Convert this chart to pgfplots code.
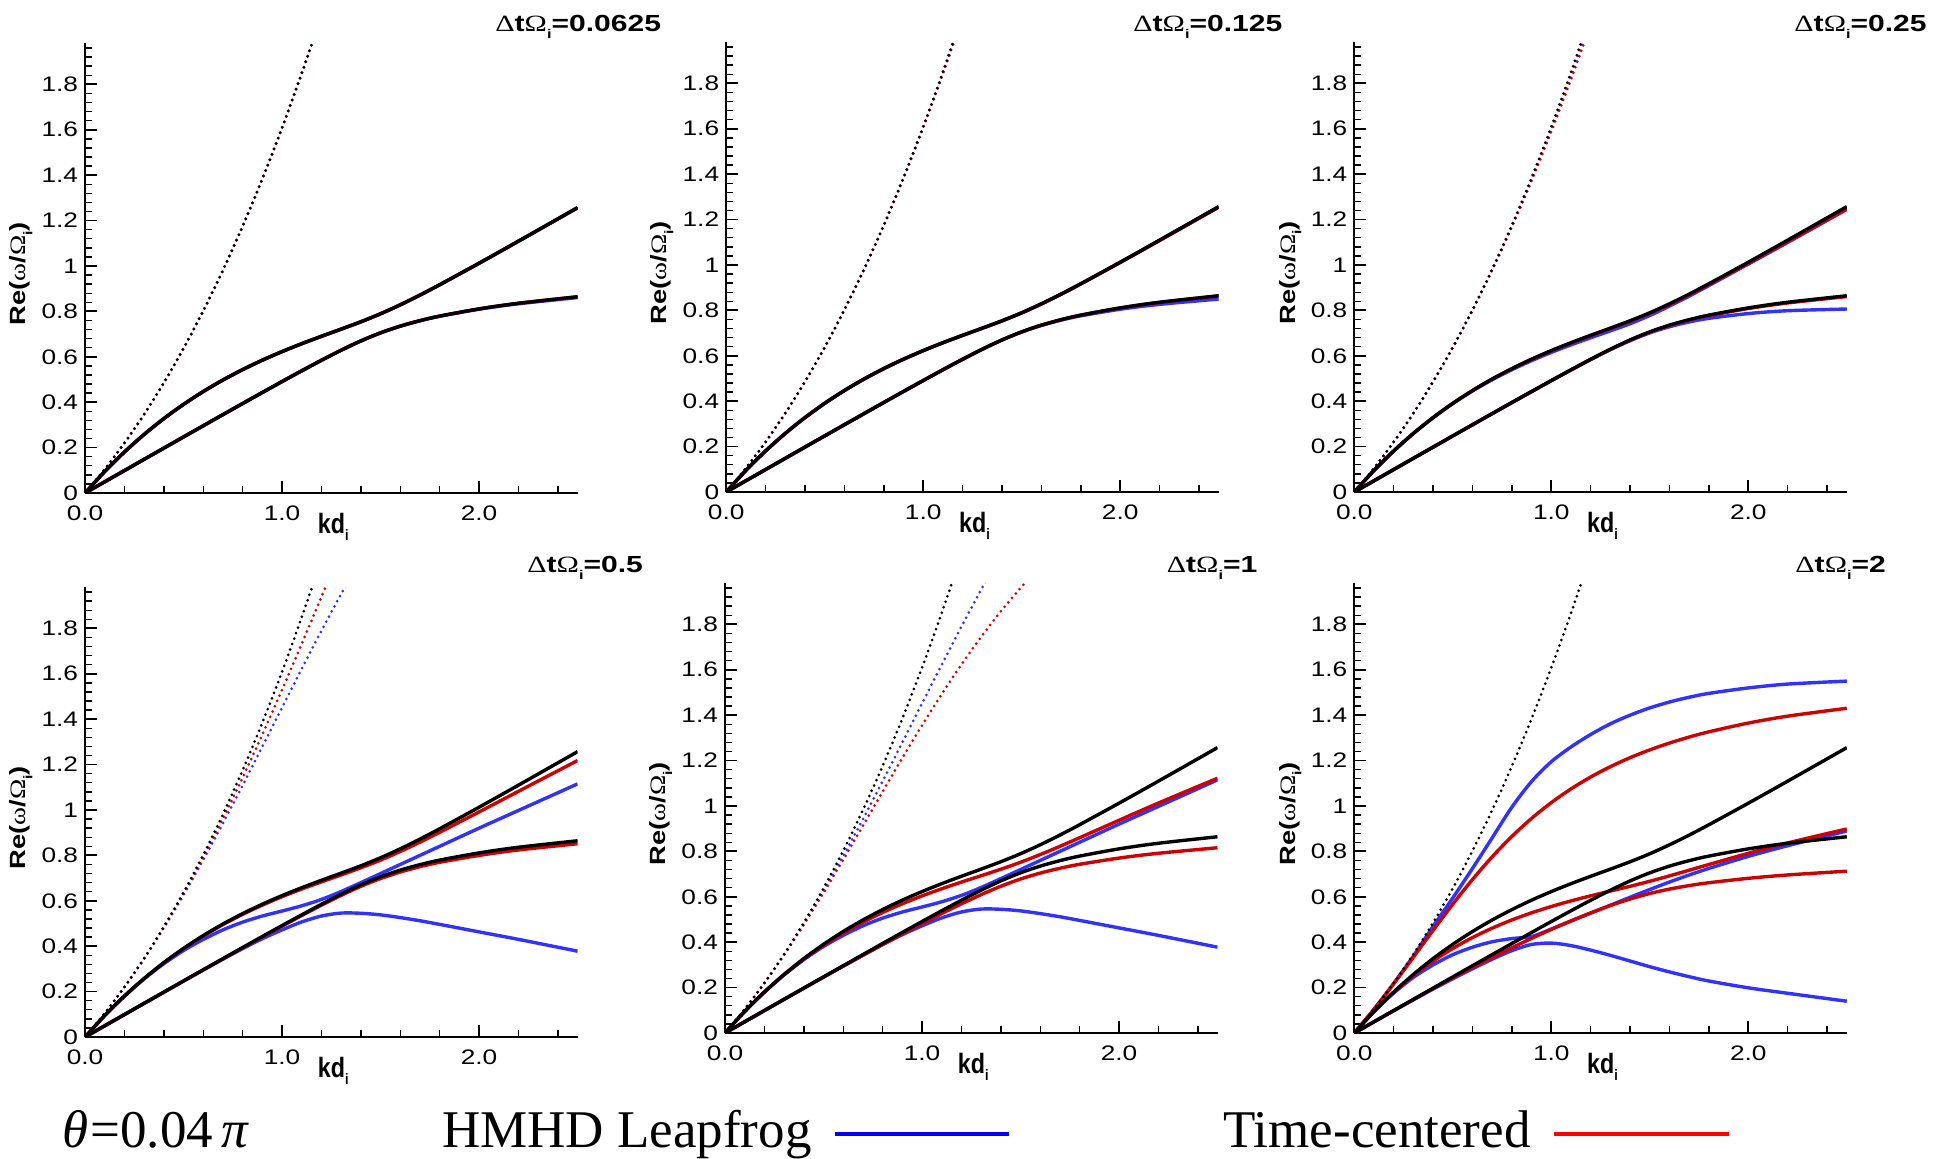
\documentclass[border=0pt]{standalone}
\usepackage{pgfplots}
\pgfplotsset{compat=1.18}
\usepackage{pgfplotstable}
\usepackage{graphicx}
\usepackage{fontspec}
\setmainfont{Liberation Sans}
\newfontfamily\serif{Liberation Serif}
\definecolor{cblue}{RGB}{50,50,255}
\definecolor{cred}{RGB}{205,0,0}
\definecolor{lblue}{RGB}{0,0,235}
\definecolor{lred}{RGB}{255,0,0}
\newcommand{\wide}[1]{\scalebox{1.25}[1]{#1}}
\newcommand{\sub}{\raisebox{-3.2pt}{\fontsize{6.3}{7}\selectfont\bfseries i}}
\newcommand{\ttl}[1]{\scalebox{1.29}[1]{{\serif\mdseries Δ}t{\serif\mdseries Ω}\sub=#1}}

% exact dispersion (black)
\pgfplotstableread{
k W M L
0 0 0 0
0.1 0.1048 0.0949 0.0495
0.2 0.2203 0.1807 0.0989
0.3 0.3471 0.2581 0.1484
0.4 0.4860 0.3278 0.1978
0.5 0.6376 0.3905 0.2471
0.6 0.8027 0.4470 0.2963
0.7 0.9819 0.4978 0.3454
0.8 1.1756 0.5436 0.3943
0.9 1.3846 0.5851 0.4428
1.0 1.6092 0.6229 0.4910
1.1 1.8499 0.6577 0.5384
1.2 2.1072 0.6903 0.5847
1.3 2.3813 0.7219 0.6290
1.4 2.6726 0.7543 0.6699
1.5 2.9814 0.7896 0.7055
1.6 3.3080 0.8290 0.7351
1.7 3.6526 0.8719 0.7592
1.8 4.0154 0.9174 0.7792
2.0 4.7962 1.0122 0.8110
2.2 5.6518 1.1094 0.8358
2.5 7.0772 1.2570 0.8644
}\EX

% dt = 0.0625
\pgfplotstableread{
k bW bM bL rW rM rL
0 0 0 0 0 0 0
0.1 0.1048 0.0949 0.0495 0.1048 0.0949 0.0495
0.2 0.2203 0.1807 0.0989 0.2203 0.1807 0.0989
0.3 0.3471 0.2581 0.1484 0.3471 0.2581 0.1484
0.4 0.4860 0.3278 0.1978 0.4860 0.3278 0.1978
0.5 0.6376 0.3905 0.2471 0.6375 0.3905 0.2471
0.6 0.8027 0.4470 0.2963 0.8026 0.4470 0.2963
0.7 0.9819 0.4978 0.3454 0.9816 0.4978 0.3454
0.8 1.1756 0.5436 0.3943 1.1751 0.5436 0.3943
0.9 1.3846 0.5851 0.4428 1.3837 0.5850 0.4428
1.0 1.6092 0.6229 0.4910 1.6078 0.6228 0.4910
1.1 1.8499 0.6577 0.5384 1.8478 0.6576 0.5384
1.2 2.1072 0.6903 0.5847 2.1041 0.6902 0.5846
1.3 2.3813 0.7219 0.6290 2.3772 0.7218 0.6289
1.4 nan 0.7543 0.6697 nan 0.7542 0.6698
1.5 nan 0.7896 0.7053 nan 0.7894 0.7054
1.6 nan 0.8290 0.7347 nan 0.8288 0.7350
1.7 nan 0.8719 0.7586 nan 0.8717 0.7591
1.8 nan 0.9174 0.7784 nan 0.9172 0.7791
2.0 nan 1.0122 0.8095 nan 1.0119 0.8108
2.2 nan 1.1094 0.8335 nan 1.1090 0.8356
2.5 nan 1.2570 0.8608 nan 1.2563 0.8642
}\PA

% dt = 0.125
\pgfplotstableread{
k bW bM bL rW rM rL
0 0 0 0 0 0 0
0.1 0.1048 0.0949 0.0495 0.1048 0.0949 0.0495
0.2 0.2203 0.1807 0.0989 0.2203 0.1807 0.0989
0.3 0.3471 0.2581 0.1484 0.3471 0.2581 0.1484
0.4 0.4860 0.3277 0.1978 0.4859 0.3278 0.1978
0.5 0.6376 0.3904 0.2471 0.6373 0.3905 0.2471
0.6 0.8027 0.4468 0.2963 0.8020 0.4469 0.2963
0.7 0.9819 0.4975 0.3454 0.9807 0.4976 0.3454
0.8 1.1756 0.5432 0.3943 1.1735 0.5435 0.3943
0.9 1.3846 0.5846 0.4428 1.3811 0.5848 0.4427
1.0 1.6092 0.6223 0.4910 1.6038 0.6226 0.4909
1.1 1.8499 0.6570 0.5384 1.8417 0.6573 0.5382
1.2 2.1072 0.6895 0.5846 2.0950 0.6899 0.5844
1.3 2.3813 0.7210 0.6288 2.3640 0.7214 0.6287
1.4 nan 0.7534 0.6694 nan 0.7537 0.6695
1.5 nan 0.7888 0.7048 nan 0.7890 0.7050
1.6 nan 0.8283 0.7336 nan 0.8283 0.7346
1.7 nan 0.8713 0.7570 nan 0.8710 0.7586
1.8 nan 0.9168 0.7759 nan 0.9164 0.7786
2.0 nan 1.0116 0.8050 nan 1.0108 0.8103
2.2 nan 1.1087 0.8265 nan 1.1076 0.8350
2.5 nan 1.2560 0.8499 nan 1.2544 0.8636
}\PB

% dt = 0.25
\pgfplotstableread{
k bW bM bL rW rM rL
0 0 0 0 0 0 0
0.1 0.1048 0.0949 0.0495 0.1048 0.0949 0.0495
0.2 0.2203 0.1807 0.0989 0.2202 0.1807 0.0989
0.3 0.3470 0.2579 0.1484 0.3469 0.2580 0.1484
0.4 0.4857 0.3272 0.1977 0.4854 0.3276 0.1976
0.5 0.6370 0.3895 0.2470 0.6363 0.3902 0.2470
0.6 0.8014 0.4450 0.2961 0.8000 0.4465 0.2962
0.7 0.9795 0.4945 0.3451 0.9770 0.4972 0.3452
0.8 1.1715 0.5386 0.3938 1.1673 0.5429 0.3940
0.9 1.3778 0.5786 0.4421 1.3710 0.5841 0.4423
1.0 1.5986 0.6149 0.4901 1.5880 0.6216 0.4904
1.1 1.8339 0.6482 0.5372 1.8179 0.6562 0.5376
1.2 2.0838 0.6793 0.5833 2.0604 0.6886 0.5837
1.3 2.3479 0.7099 0.6272 2.3145 0.7199 0.6277
1.4 nan 0.7413 0.6665 nan 0.7521 0.6683
1.5 nan 0.7776 0.7010 nan 0.7870 0.7037
1.6 nan 0.8190 0.7280 nan 0.8260 0.7330
1.7 nan 0.8629 0.7490 nan 0.8685 0.7569
1.8 nan 0.9094 0.7650 nan 0.9134 0.7767
2.0 nan 1.0042 0.7860 nan 1.0068 0.8082
2.2 nan 1.0994 0.7985 nan 1.1023 0.8328
2.5 nan 1.2450 0.8060 nan 1.2468 0.8610
}\PC

% dt = 0.5
\pgfplotstableread{
k bW bM bL rW rM rL
0 0 0 0 0 0 0
0.1 0.1048 0.0948 0.0495 0.1048 0.0949 0.0495
0.2 0.2198 0.1795 0.0989 0.2201 0.1806 0.0989
0.3 0.3452 0.2560 0.1484 0.3462 0.2577 0.1483
0.4 0.4809 0.3230 0.1975 0.4836 0.3271 0.1975
0.5 0.6261 0.3810 0.2465 0.6323 0.3893 0.2468
0.6 0.7803 0.4300 0.2950 0.7922 0.4451 0.2958
0.7 0.9418 0.4720 0.3430 0.9629 0.4952 0.3445
0.8 1.1089 0.5060 0.3895 1.1434 0.5404 0.3930
0.9 1.2796 0.5330 0.4330 1.3330 0.5810 0.4410
1.0 1.4514 0.5550 0.4720 1.5300 0.6181 0.4886
1.1 1.6222 0.5780 0.5070 1.7327 0.6519 0.5352
1.2 1.7898 0.6060 0.5330 1.9394 0.6833 0.5806
1.3 1.9521 0.6410 0.5460 2.1479 0.7140 0.6239
1.4 2.1076 0.6800 0.5450 2.3561 0.7455 0.6637
1.5 nan 0.7200 0.5380 nan 0.7793 0.6981
1.6 nan 0.7600 0.5260 nan 0.8174 0.7267
1.7 nan 0.8000 0.5120 nan 0.8584 0.7503
1.8 nan 0.8400 0.4960 nan 0.9018 0.7696
2.0 nan 0.9200 0.4630 nan 0.9914 0.7999
2.2 nan 0.9980 0.4300 nan 1.0822 0.8239
2.5 nan 1.1150 0.3780 nan 1.2179 0.8513
}\PD

% dt = 1
\pgfplotstableread{
k bW bM bL rW rM rL
0 0 0 0 0 0 0
0.1 0.1048 0.0948 0.0495 0.1047 0.0948 0.0495
0.2 0.2198 0.1795 0.0989 0.2194 0.1802 0.0988
0.3 0.3452 0.2560 0.1484 0.3437 0.2567 0.1481
0.4 0.4809 0.3230 0.1975 0.4768 0.3249 0.1971
0.5 0.6261 0.3810 0.2465 0.6172 0.3856 0.2458
0.6 0.7803 0.4300 0.2950 0.7634 0.4398 0.2942
0.7 0.9418 0.4720 0.3430 0.9127 0.4879 0.3420
0.8 1.1089 0.5060 0.3895 1.0628 0.5309 0.3893
0.9 1.2796 0.5330 0.4330 1.2110 0.5692 0.4358
1.0 1.4514 0.5550 0.4720 1.3551 0.6039 0.4815
1.1 1.6222 0.5780 0.5070 1.4929 0.6354 0.5259
1.2 1.7898 0.6060 0.5330 1.6230 0.6647 0.5689
1.3 1.9521 0.6410 0.5460 1.7444 0.6928 0.6094
1.4 2.1076 0.6800 0.5450 1.8569 0.7213 0.6464
1.5 nan 0.7200 0.5380 1.9598 0.7520 0.6782
1.6 nan 0.7600 0.5260 2.0540 0.7859 0.7044
1.7 nan 0.8000 0.5120 2.1395 0.8222 0.7256
1.8 nan 0.8400 0.4960 nan 0.8601 0.7430
2.0 nan 0.9200 0.4630 nan 0.9370 0.7705
2.2 nan 0.9980 0.4300 nan 1.0129 0.7917
2.5 nan 1.1150 0.3780 nan 1.1222 0.8159
}\PE

% dt = 2
\pgfplotstableread{
k bW bM bL rW rM rL
0 0 0 0 0 0 0
0.1 0.1046 0.0940 0.0493 0.1044 0.0946 0.0495
0.2 0.2185 0.1760 0.0980 0.2168 0.1788 0.0986
0.3 0.3390 0.2450 0.1460 0.3341 0.2526 0.1473
0.4 0.4700 0.3000 0.1935 0.4524 0.3168 0.1952
0.5 0.5950 0.3450 0.2390 0.5676 0.3723 0.2423
0.6 0.7250 0.3780 0.2830 0.6764 0.4204 0.2881
0.7 0.8600 0.4020 0.3250 0.7763 0.4619 0.3326
0.8 0.9950 0.4160 0.3630 0.8659 0.4980 0.3756
0.9 1.1080 0.4250 0.3900 0.9453 0.5294 0.4169
1.0 1.1950 0.4580 0.3960 1.0148 0.5571 0.4564
1.1 1.2600 0.4930 0.3850 1.0752 0.5818 0.4939
1.2 1.3150 0.5280 0.3650 1.1277 0.6042 0.5291
1.3 1.3620 0.5630 0.3420 1.1732 0.6253 0.5615
1.4 1.4000 0.5980 0.3170 1.2128 0.6462 0.5902
1.5 1.4320 0.6320 0.2920 1.2472 0.6684 0.6144
1.6 1.4580 0.6650 0.2690 1.2772 0.6922 0.6339
1.7 1.4790 0.6960 0.2480 1.3036 0.7171 0.6494
1.8 1.4960 0.7250 0.2290 1.3267 0.7423 0.6619
2.0 1.5200 0.7780 0.1990 1.3652 0.7915 0.6814
2.2 1.5370 0.8250 0.1750 1.3957 0.8372 0.6962
2.5 1.5500 0.8900 0.1400 1.4304 0.8988 0.7128
}\PF

\pgfplotsset{
  panel/.style={
    scale only axis, width=246.25pt, height=224.75pt,
    xmin=0, xmax=2.5, ymin=0, ymax=1.98,
    axis lines*=left,
    axis line style={line width=1pt},
    tick align=inside,
    major tick length=6pt, minor tick length=3.3pt,
    every tick/.style={black, line width=0.9pt},
    every minor tick/.style={black, line width=0.7pt},
    xtick={0,1,2}, xticklabels={\wide{0.0},\wide{1.0},\wide{2.0}},
    minor xtick={0.2,0.4,0.6,0.8,1.2,1.4,1.6,1.8,2.2,2.4},
    ytick={0,0.2,0.4,0.6,0.8,1,1.2,1.4,1.6,1.8},
    yticklabels={\wide{0},\wide{0.2},\wide{0.4},\wide{0.6},\wide{0.8},\wide{1},\wide{1.2},\wide{1.4},\wide{1.6},\wide{1.8}},
    minor ytick={0.04,0.08,0.12,0.16,0.24,0.28,0.32,0.36,0.44,0.48,0.52,0.56,0.64,0.68,0.72,0.76,0.84,0.88,0.92,0.96,1.04,1.08,1.12,1.16,1.24,1.28,1.32,1.36,1.44,1.48,1.52,1.56,1.64,1.68,1.72,1.76,1.84,1.88,1.92,1.96},
    tick label style={font=\fontsize{10.5}{12}\selectfont},
    xticklabel style={yshift=-3pt},
    xlabel={\scalebox{1}[1.2]{kd\sub}},
    xlabel style={at={([yshift=-17pt]axis description cs:0.504,0)}, anchor=center, font=\fontsize{11.65}{13}\selectfont\bfseries},
    ylabel={\scalebox{1.24}[1]{Re({\serif\mdseries ω}/{\serif\mdseries Ω}\sub)}},
    ylabel style={at={([xshift=-32pt]axis description cs:0,0.4875)}, anchor=center, font=\fontsize{11}{13}\selectfont\bfseries},
  },
  cv/.style={line width=1.7pt, smooth, no marks},
  dt/.style={line width=1.5pt, smooth, no marks, line cap=round, dash pattern=on 0pt off 2.9pt},
}

\newcommand{\panel}[3]{%
  \begin{axis}[panel, at={#1}, anchor=south west]
    \addplot[cblue, cv] table[x=k,y=bM]{#2};
    \addplot[cblue, cv] table[x=k,y=bL]{#2};
    \addplot[cblue, #3] table[x=k,y=bW]{#2};
    \addplot[cred, cv] table[x=k,y=rM]{#2};
    \addplot[cred, cv] table[x=k,y=rL]{#2};
    \addplot[cred, #3] table[x=k,y=rW]{#2};
    \addplot[black, cv] table[x=k,y=M]{\EX};
    \addplot[black, cv] table[x=k,y=L]{\EX};
    \addplot[black, dt] table[x=k,y=W]{\EX};
  \end{axis}%
}

\begin{document}
\begin{tikzpicture}
\useasboundingbox (0pt,0pt) rectangle (970pt,579pt);

\panel{(42.55pt,332.5pt)}{\PA}{dt}
\panel{(363.1pt,333pt)}{\PB}{dt}
\panel{(677.15pt,333pt)}{\PC}{dt}
\panel{(42.55pt,60.5pt)}{\PD}{dt}
\panel{(362.5pt,62.5pt)}{\PE}{dt}
\panel{(677.15pt,62.5pt)}{\PF}{cv}

\begin{scope}[every node/.style={anchor=base west, inner sep=0pt, font=\fontsize{11.65}{13}\selectfont\bfseries}]
\node at (247.5pt,563pt) {\ttl{0.0625}};
\node at (566.5pt,563pt) {\ttl{0.125}};
\node at (897pt,563pt) {\ttl{0.25}};
\node at (263.5pt,292.5pt) {\ttl{0.5}};
\node at (583.25pt,292.5pt) {\ttl{1}};
\node at (897.5pt,292.5pt) {\ttl{2}};
\end{scope}

\begin{scope}[every node/.style={anchor=base west, inner sep=0pt, font=\serif\fontsize{26.5}{30}\selectfont}]
\node at (31pt,5.5pt) {{\itshape θ}\hspace{1pt}=0.04\,{\itshape π}};
\node at (220.85pt,5.5pt) {HMHD Leapfrog};
\node at (611.5pt,5.5pt) {Time-centered};
\end{scope}
\draw[lblue, line width=1.65pt] (417.5pt,12pt) -- (504.5pt,12pt);
\draw[lred, line width=1.65pt] (777pt,12pt) -- (864.25pt,12pt);
\end{tikzpicture}
\end{document}
